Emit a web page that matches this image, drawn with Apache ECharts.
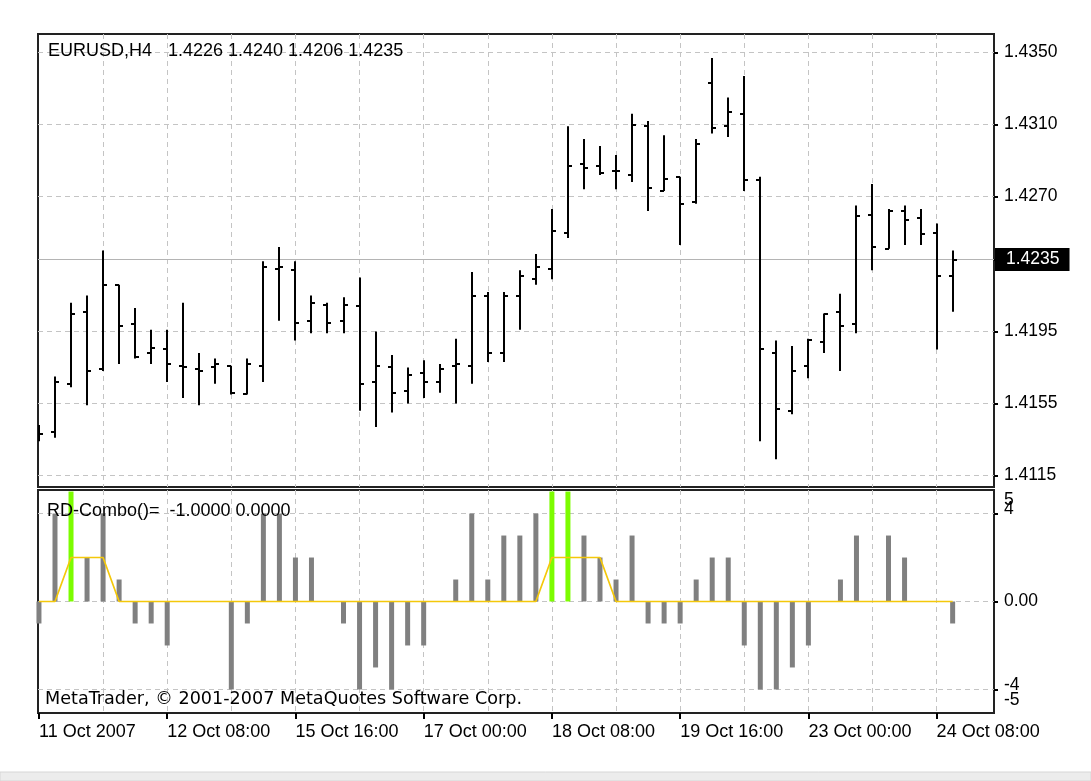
<!DOCTYPE html>
<html><head><meta charset="utf-8">
<script src="https://cdn.jsdelivr.net/npm/echarts@6/dist/echarts.min.js"></script>
<style>html,body{margin:0;padding:0;background:#fff;}#c{width:1091px;height:781px;}</style>
</head><body><div id="c"></div>
<script>
// ---- data ----
const symbolName = 'EURUSD,H4';
const opens  = [1.4136,1.4139,1.4166,1.4206,1.4174,1.4221,1.4199,1.4183,1.4185,1.4176,1.4174,1.4175,1.4176,1.4160,1.4176,1.4230,1.4229,1.4201,1.4210,1.4201,1.4209,1.4167,1.4175,1.4162,1.4172,1.4167,1.4176,1.4176,1.4215,1.4183,1.4215,1.4224,1.4230,1.4250,1.4288,1.4287,1.4284,1.4282,1.4309,1.4273,1.4281,1.4267,1.4333,1.4309,1.4316,1.4279,1.4183,1.4151,1.4176,1.4189,1.4206,1.4199,1.4260,1.4241,1.4262,1.4258,1.4250,1.4226];
const highs  = [1.4143,1.4170,1.4211,1.4215,1.4240,1.4221,1.4208,1.4196,1.4196,1.4211,1.4183,1.4180,1.4176,1.4180,1.4234,1.4242,1.4234,1.4215,1.4211,1.4214,1.4225,1.4195,1.4182,1.4175,1.4179,1.4177,1.4191,1.4228,1.4217,1.4217,1.4229,1.4238,1.4263,1.4309,1.4302,1.4298,1.4293,1.4316,1.4312,1.4304,1.4281,1.4302,1.4347,1.4325,1.4337,1.4281,1.4190,1.4187,1.4191,1.4205,1.4216,1.4265,1.4277,1.4263,1.4265,1.4263,1.4255,1.4240];
const lows   = [1.4134,1.4136,1.4164,1.4154,1.4173,1.4177,1.4180,1.4177,1.4167,1.4158,1.4154,1.4166,1.4160,1.4160,1.4167,1.4201,1.4190,1.4194,1.4194,1.4194,1.4151,1.4142,1.4150,1.4155,1.4158,1.4161,1.4155,1.4166,1.4178,1.4178,1.4196,1.4221,1.4224,1.4247,1.4274,1.4282,1.4274,1.4278,1.4262,1.4273,1.4243,1.4266,1.4305,1.4303,1.4273,1.4134,1.4124,1.4149,1.4169,1.4183,1.4173,1.4194,1.4229,1.4241,1.4243,1.4243,1.4185,1.4206];
const closes = [1.4138,1.4167,1.4205,1.4173,1.4221,1.4198,1.4181,1.4186,1.4177,1.4175,1.4173,1.4177,1.4161,1.4177,1.4231,1.4231,1.4200,1.4211,1.4200,1.4210,1.4166,1.4176,1.4161,1.4171,1.4167,1.4174,1.4177,1.4215,1.4183,1.4215,1.4226,1.4231,1.4251,1.4287,1.4286,1.4283,1.4284,1.4310,1.4275,1.4280,1.4266,1.4299,1.4308,1.4317,1.4279,1.4185,1.4152,1.4173,1.4190,1.4205,1.4198,1.4259,1.4242,1.4262,1.4257,1.4249,1.4226,1.4235];
const comboHist   = [-1,4,0,2,4,1,-1,-1,-2,0,0,0,-4,-1,4,4,2,2,0,-1,-4,-3,-4,-2,-2,0,1,4,1,3,3,4,0,0,3,2,1,3,-1,-1,-1,1,2,2,-2,-4,-4,-3,-2,0,1,3,0,3,2,0,0,-1];
const comboSignal = [null,null,5,null,null,null,null,null,null,null,null,null,null,null,null,null,null,null,null,null,null,null,null,null,null,null,null,null,null,null,null,null,5,5,null,null,null,null,null,null,null,null,null,null,null,null,null,null,null,null,null,null,null,null,null,null,null,null];
const comboLine   = [0,0,2,2,2,0,0,0,0,0,0,0,0,0,0,0,0,0,0,0,0,0,0,0,0,0,0,0,0,0,0,0,2,2,2,2,0,0,0,0,0,0,0,0,0,0,0,0,0,0,0,0,0,0,0,0,0,0];
const priceTicks = [1.4350,1.4310,1.4270,1.4235,1.4195,1.4155,1.4115];
const comboTickValues = [4,0,-4];
const comboLimitLabels = [5,-5];
const dateLabelBars = [0,8,16,24,32,40,48,56];
const dateLabels = ['11 Oct 2007','12 Oct 08:00','15 Oct 16:00','17 Oct 00:00','18 Oct 08:00','19 Oct 16:00','23 Oct 00:00','24 Oct 08:00'];
const gridBars = [4,8,12,16,20,24,28,32,36,40,44,48,52,56];

// ---- chart ----
const FONT = 'Liberation Sans';
const FS = 18;
const AFS = 17.5;
const last = opens.length - 1;
const xMin = -0.06, xMax = 59.58;
const cMin = -5.07, cMax = 5.07;
const dash = {color:'#c4c4c4', type:[5,4], width:1};
const noLine = {show:false, onZero:false};

const chart = echarts.init(document.getElementById('c'), null, {renderer:'canvas'});
const ohlcData = opens.map((o,i)=>[i,o,highs[i],lows[i],closes[i]]);

chart.setOption({
  animation:false,
  backgroundColor:'#fff',
  grid:[
    {left:38, top:34, width:956, height:453, show:true, borderColor:'#222', borderWidth:2, backgroundColor:'#fff'},
    {left:38, top:490, width:956, height:223, show:true, borderColor:'#222', borderWidth:2, backgroundColor:'#fff'}
  ],
  xAxis:[
    {type:'value', gridIndex:0, min:xMin, max:xMax, axisLine:noLine, axisLabel:{show:false},
     axisTick:{show:false, customValues:gridBars}, splitLine:{show:true, lineStyle:dash}},
    {type:'value', gridIndex:1, min:xMin, max:xMax, axisLine:noLine, position:'bottom',
     axisTick:{show:true, customValues:dateLabelBars, length:6, lineStyle:{color:'#000', width:2}},
     axisLabel:{show:true, customValues:dateLabelBars, align:'left', margin:10, color:'#000', fontFamily:FONT, fontSize:FS,
       hideOverlap:false, formatter:v=>dateLabels[dateLabelBars.indexOf(Math.round(v))]},
     splitLine:{show:false}},
    {type:'value', gridIndex:1, min:xMin, max:xMax, axisLine:noLine, axisLabel:{show:false},
     axisTick:{show:false, customValues:gridBars}, splitLine:{show:true, lineStyle:dash}}
  ],
  yAxis:[
    {type:'value', gridIndex:0, position:'right', min:1.410861, max:1.436028,
     axisLine:noLine,
     axisTick:{show:true, customValues:priceTicks, length:4, lineStyle:{color:'#000', width:2}},
     axisLabel:{customValues:priceTicks, margin:10, color:'#000', fontFamily:FONT, fontSize:AFS, hideOverlap:false,
       formatter:v=>v.toFixed(4)},
     splitLine:{show:true, lineStyle:dash}},
    {type:'value', gridIndex:1, position:'right', min:cMin, max:cMax,
     axisLine:noLine,
     axisTick:{show:true, customValues:comboTickValues, length:4, lineStyle:{color:'#000', width:2}},
     axisLabel:{customValues:comboTickValues, margin:10, color:'#000', fontFamily:FONT, fontSize:AFS,
       hideOverlap:false, showMinLabel:true, showMaxLabel:true,
       formatter:v=> v===0 ? v.toFixed(2) : '{u|'+v+'}',
       rich:{ u:{padding:[0,0,8,0], fontFamily:FONT, fontSize:AFS, color:'#000'} }},
     splitLine:{show:true, lineStyle:dash}},
    {type:'value', gridIndex:1, position:'right', min:cMin, max:cMax,
     axisLine:noLine, axisTick:{show:false, customValues:comboLimitLabels}, splitLine:{show:false},
     axisLabel:{customValues:comboLimitLabels, margin:10, color:'#000', fontFamily:FONT, fontSize:AFS,
       hideOverlap:false, showMinLabel:true, showMaxLabel:true,
       formatter:v=> v>0 ? '{t|'+v+'}' : '{b|'+v+'}',
       rich:{
         t:{padding:[18,0,0,0], fontFamily:FONT, fontSize:AFS, color:'#000'},
         b:{padding:[0,0,22,0], fontFamily:FONT, fontSize:AFS, color:'#000'}
       }}}
  ],
  series:[
    {
      type:'custom', xAxisIndex:0, yAxisIndex:0, clip:true, z:3,
      data:ohlcData,
      encode:{x:0, y:[1,2,3,4]},
      renderItem:function(params, api){
        const x = api.value(0);
        const pO = api.coord([x, api.value(1)]);
        const pH = api.coord([x, api.value(2)]);
        const pL = api.coord([x, api.value(3)]);
        const pC = api.coord([x, api.value(4)]);
        const cx = Math.round(pH[0]);
        const st = {stroke:'#000', lineWidth:2};
        return {type:'group', children:[
          {type:'line', shape:{x1:cx, y1:pH[1], x2:cx, y2:pL[1]}, style:st},
          {type:'line', shape:{x1:cx-4, y1:Math.round(pO[1]), x2:cx, y2:Math.round(pO[1])}, style:st},
          {type:'line', shape:{x1:cx, y1:Math.round(pC[1]), x2:cx+4, y2:Math.round(pC[1])}, style:st}
        ]};
      },
      markLine:{
        silent:true, symbol:'none', z:1, precision:4,
        lineStyle:{color:'#b4b4b4', type:'solid', width:1},
        label:{position:'end', distance:1, formatter:p=>Number(p.value).toFixed(4),
          backgroundColor:'#000', color:'#fff', fontFamily:FONT, fontSize:AFS, padding:[3,10,2,11]},
        data:[{yAxis:closes[last]}]
      }
    },
    {
      type:'bar', xAxisIndex:2, yAxisIndex:1, barWidth:5, barGap:'-100%', z:2,
      itemStyle:{color:'#808080'},
      data:comboHist.map((v,i)=>[i,v])
    },
    {
      type:'bar', xAxisIndex:2, yAxisIndex:1, barWidth:5, barGap:'-100%', z:3,
      itemStyle:{color:'#7cfc00'},
      data:comboSignal.map((v,i)=>[i,v])
    },
    {
      type:'line', xAxisIndex:2, yAxisIndex:1, z:4, symbol:'none',
      lineStyle:{color:'#f4c80a', width:1.7},
      data:comboLine.map((v,i)=>[i,v])
    }
  ],
  graphic:[
    {type:'text', x:48, y:51, z:10, style:{
      text: symbolName, font: FS+'px "'+FONT+'"', fill:'#000', verticalAlign:'middle'}},
    {type:'text', x:168, y:51, z:10, style:{
      text: [opens[last],highs[last],lows[last],closes[last]].map(v=>v.toFixed(4)).join(' '),
      font: FS+'px "'+FONT+'"', fill:'#000', verticalAlign:'middle'}},
    {type:'text', x:47, y:511, z:10, style:{
      text: 'RD-Combo()=  ' + comboHist[last].toFixed(4) + ' ' + comboLine[last].toFixed(4),
      font: FS+'px "'+FONT+'"', fill:'#000', verticalAlign:'middle'}},
    {type:'text', x:45, y:699, z:10, style:{
      text: 'MetaTrader, \u00a9 2001-2007 MetaQuotes Software Corp.',
      font: '17.6px "DejaVu Sans"', fill:'#000', verticalAlign:'middle'}},
    {type:'rect', x:0, y:772, z:10, shape:{width:1091, height:9}, style:{fill:'#ececec', stroke:'#d6d6d6', lineWidth:1}}
  ]
});
</script>
</body></html>
